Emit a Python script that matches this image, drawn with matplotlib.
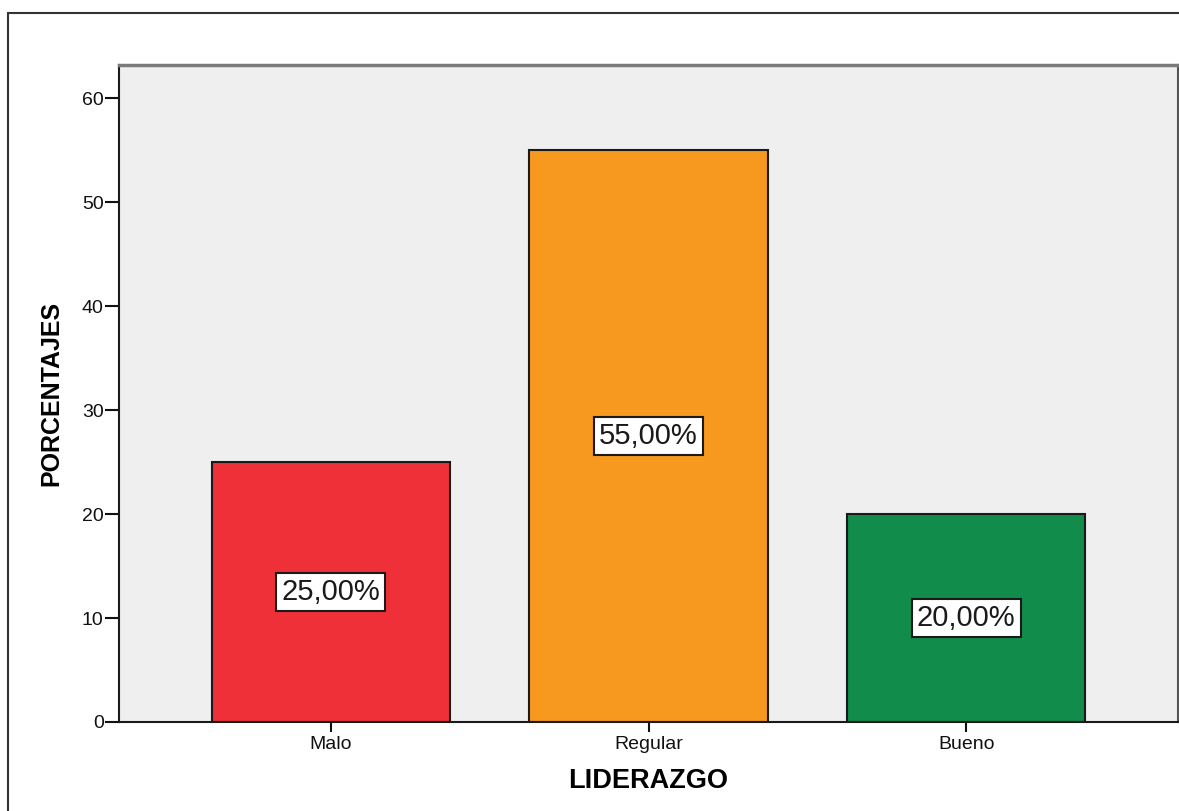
import matplotlib
matplotlib.use("Agg")
import matplotlib.pyplot as plt
from matplotlib.patches import Rectangle

# porcentajes por nivel de liderazgo
categorias = ["Malo", "Regular", "Bueno"]
porcentajes = [25.0, 55.0, 20.0]
colores = ["#EF3038", "#F7991E", "#118C4A"]
yticks = [0, 10, 20, 30, 40, 50, 60]

plt.rcParams['font.family'] = ['Liberation Sans', 'DejaVu Sans']

fig = plt.figure(figsize=(11.79, 8.11), dpi=100)
fig.patch.set_facecolor("white")

# marco exterior del grafico (se sale por la derecha y por abajo)
fig.patches.append(Rectangle((8 / 1179, -0.05), 1.2, (811 - 13) / 811 + 0.05,
                             transform=fig.transFigure, fill=False,
                             edgecolor="#333333", linewidth=1.5, zorder=0))

ax = fig.add_axes([119 / 1179, (811 - 722) / 811, (1178 - 119) / 1179, (722 - 65) / 811])
ax.set_facecolor("#EFEFEF")

x = list(range(len(categorias)))
ax.bar(x, porcentajes, width=0.75, color=colores, edgecolor="#1a1a1a", linewidth=1.5, zorder=2)

for xi, v in zip(x, porcentajes):
    ax.text(xi, v / 2, "{:.2f}%".format(v).replace(".", ","), ha="center", va="center",
            fontsize=21, color="#1a1a1a", zorder=3,
            bbox=dict(boxstyle="square,pad=0.18", facecolor="white", edgecolor="#1a1a1a", linewidth=1.5))

ax.set_xlim(-0.667, 2.667)
ax.set_ylim(0, 63.2)
ax.set_xticks(x)
ax.set_xticklabels(categorias)
ax.set_yticks(yticks)
ax.tick_params(axis="y", length=10, width=1.5, pad=1, labelsize=14, colors="#111111")
ax.tick_params(axis="x", length=7, width=1.5, pad=3, labelsize=14, colors="#111111")

ax.set_ylabel("PORCENTAJES", fontsize=18, fontweight="bold", labelpad=13)
ax.set_xlabel("LIDERAZGO", fontsize=19.5, fontweight="bold", labelpad=11)

ax.spines["left"].set_color("#1a1a1a")
ax.spines["left"].set_linewidth(1.5)
ax.spines["bottom"].set_color("#1a1a1a")
ax.spines["bottom"].set_linewidth(1.5)
ax.spines["top"].set_color("#7a7a7a")
ax.spines["top"].set_linewidth(2.5)
ax.spines["right"].set_color("#555555")
ax.spines["right"].set_linewidth(1.5)

fig.savefig("out.png", dpi=100)
